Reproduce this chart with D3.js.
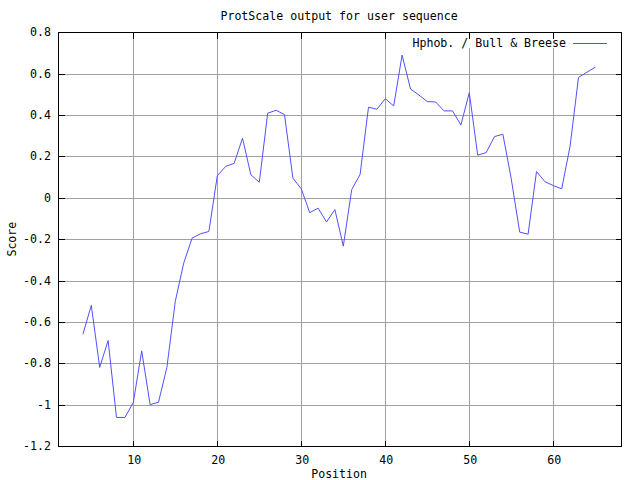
<!DOCTYPE html>
<html>
<head>
<meta charset="utf-8">
<script src="https://cdn.jsdelivr.net/npm/d3@7"></script>
<style>
  html, body { margin: 0; padding: 0; background: #fff; }
  svg { display: block; }
  text { font-family: "DejaVu Sans Mono", "Liberation Mono", monospace; font-size: 11.6px; fill: #000; }
</style>
</head>
<body>
<script>
// ---- data ----
const positions = [4,5,6,7,8,9,10,11,12,13,14,15,16,17,18,19,20,21,22,23,24,25,26,27,28,29,30,31,32,33,34,35,36,37,38,39,40,41,42,43,44,45,46,47,48,49,50,51,52,53,54,55,56,57,58,59,60,61,62,63,64,65];
const scores = [-0.66,-0.52,-0.82,-0.69,-1.062,-1.062,-0.99,-0.74,-1.0,-0.988,-0.82,-0.50,-0.316,-0.195,-0.174,-0.163,0.106,0.152,0.166,0.288,0.111,0.075,0.409,0.423,0.402,0.095,0.043,-0.072,-0.05,-0.117,-0.057,-0.234,0.039,0.113,0.438,0.428,0.479,0.444,0.69,0.526,0.497,0.465,0.463,0.42,0.42,0.352,0.508,0.206,0.218,0.296,0.307,0.09,-0.166,-0.176,0.127,0.078,0.059,0.043,0.25,0.582,0.607,0.631];
const xTicks = [10,20,30,40,50,60];
const yTicks = [-1.2,-1.0,-0.8,-0.6,-0.4,-0.2,0,0.2,0.4,0.6,0.8];
const yTickLabels = ["-1.2","-1","-0.8","-0.6","-0.4","-0.2","0","0.2","0.4","0.6","0.8"];
const titleText = "ProtScale output for user sequence";
const seriesName = "Hphob. / Bull & Breese";
const xLabel = "Position";
const yLabel = "Score";

// ---- layout ----
const W = 640, H = 480;
const L = 57.7, R = 620.5, T = 32.3, B = 446;
const x = d3.scaleLinear().domain([1, 68]).range([L, R]);
const y = d3.scaleLinear().domain([-1.2, 0.8]).range([B, T]);
const px = v => Math.round(v) + 0.5;

const svg = d3.select("body").append("svg").attr("width", W).attr("height", H);

// grid
const grid = svg.append("g").attr("stroke", "#a0a0a0").attr("stroke-width", 1).attr("shape-rendering", "crispEdges");
grid.selectAll("line.v").data(xTicks).enter().append("line")
  .attr("x1", d => px(x(d))).attr("x2", d => px(x(d)))
  .attr("y1", px(T)).attr("y2", px(B));
grid.selectAll("line.h").data(yTicks.slice(1, -1)).enter().append("line")
  .attr("x1", px(L)).attr("x2", px(R))
  .attr("y1", d => px(y(d))).attr("y2", d => px(y(d)));

// legend background
svg.append("rect").attr("x", 405).attr("y", 33).attr("width", 212).attr("height", 15).attr("fill", "#fff");

// data line
const line = d3.line().x((d, i) => x(positions[i])).y(d => y(d));
svg.append("path").datum(scores)
  .attr("d", line)
  .attr("fill", "none")
  .attr("stroke", "#5050ff")
  .attr("stroke-width", 1);

// frame and ticks
const fr = svg.append("g").attr("stroke", "#000").attr("stroke-width", 1).attr("shape-rendering", "crispEdges");
fr.append("rect").attr("x", px(L)).attr("y", px(T)).attr("width", px(R) - px(L)).attr("height", px(B) - px(T)).attr("fill", "none");
const tl = 6;
fr.selectAll("line.yl").data(yTicks).enter().append("line")
  .attr("x1", px(L)).attr("x2", px(L) + tl).attr("y1", d => px(y(d))).attr("y2", d => px(y(d)));
fr.selectAll("line.yr").data(yTicks).enter().append("line")
  .attr("x1", px(R)).attr("x2", px(R) - tl).attr("y1", d => px(y(d))).attr("y2", d => px(y(d)));
fr.selectAll("line.xb").data(xTicks).enter().append("line")
  .attr("x1", d => px(x(d))).attr("x2", d => px(x(d))).attr("y1", px(B)).attr("y2", px(B) - tl);
fr.selectAll("line.xt").data(xTicks).enter().append("line")
  .attr("x1", d => px(x(d))).attr("x2", d => px(x(d))).attr("y1", px(T)).attr("y2", px(T) + tl);

// tick labels
svg.selectAll("text.yt").data(yTicks).enter().append("text")
  .attr("x", 51).attr("y", d => y(d)).attr("text-anchor", "end").attr("dominant-baseline", "central")
  .text((d, i) => yTickLabels[i]);
svg.selectAll("text.xt").data(xTicks).enter().append("text")
  .attr("x", d => x(d) + 1).attr("y", 460).attr("text-anchor", "middle").attr("dominant-baseline", "central")
  .text(d => d);

// titles
svg.append("text").attr("x", (L + R) / 2).attr("y", 16).attr("text-anchor", "middle").attr("dominant-baseline", "central").text(titleText);
svg.append("text").attr("x", (L + R) / 2).attr("y", 474).attr("text-anchor", "middle").attr("dominant-baseline", "central").text(xLabel);
svg.append("text").attr("transform", `translate(12,${(T + B) / 2}) rotate(-90)`).attr("text-anchor", "middle").attr("dominant-baseline", "central").text(yLabel);

// legend
svg.append("text").attr("x", 566).attr("y", 43).attr("text-anchor", "end").attr("dominant-baseline", "central").text(seriesName);
svg.append("line").attr("x1", 573).attr("x2", 607).attr("y1", 43.5).attr("y2", 43.5)
  .attr("stroke", "#5050ff").attr("stroke-width", 1).attr("shape-rendering", "crispEdges");
</script>
</body>
</html>
